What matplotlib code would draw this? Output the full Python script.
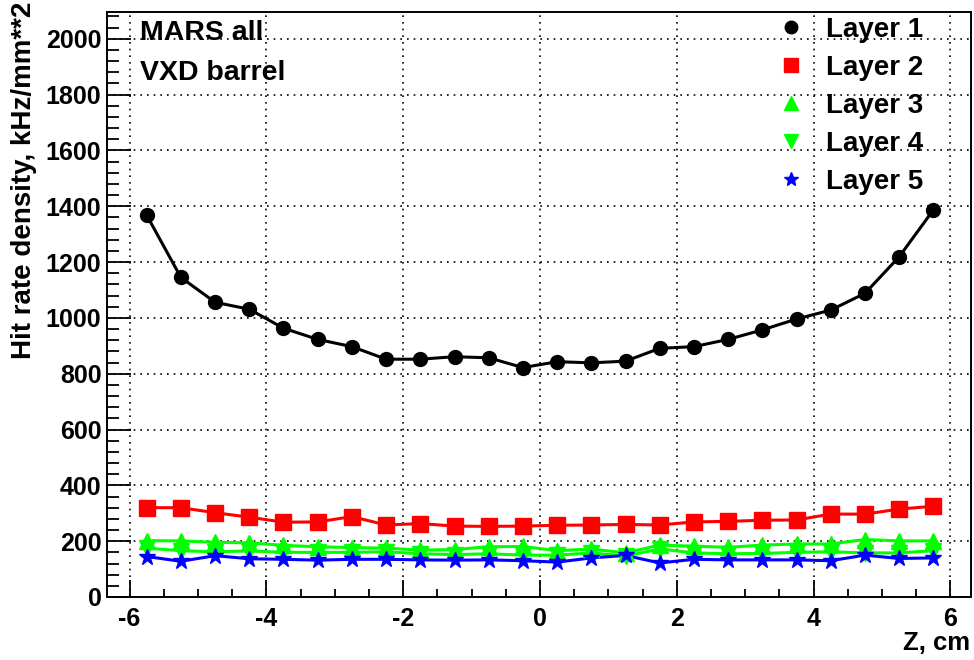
import matplotlib
matplotlib.use("Agg")
import matplotlib.pyplot as plt
from matplotlib.ticker import MultipleLocator

plt.rcParams['font.family'] = ['Liberation Sans', 'DejaVu Sans']
plt.rcParams['font.weight'] = 'bold'
plt.rcParams['axes.unicode_minus'] = False

# Hit rate density per VXD barrel layer vs. Z position
z = [-5.75, -5.25, -4.75, -4.25, -3.75, -3.25, -2.75, -2.25, -1.75, -1.25, -0.75, -0.25,
     0.25, 0.75, 1.25, 1.75, 2.25, 2.75, 3.25, 3.75, 4.25, 4.75, 5.25, 5.75]

layer1 = [1368, 1145, 1056, 1031, 963, 923, 897, 852, 852, 861, 857, 822,
          843, 839, 845, 891, 897, 923, 957, 996, 1028, 1088, 1219, 1387]
layer2 = [320, 320, 302, 286, 268, 269, 288, 258, 263, 254, 253, 254,
          257, 258, 260, 258, 269, 271, 275, 276, 297, 297, 315, 325]
layer3 = [202, 201, 196, 194, 185, 180, 177, 175, 168, 170, 180, 181,
          166, 172, 158, 186, 182, 178, 186, 190, 190, 206, 201, 201]
layer4 = [175, 166, 162, 165, 160, 160, 160, 162, 155, 152, 155, 150,
          150, 158, 147, 172, 158, 155, 156, 160, 162, 158, 158, 166]
layer5 = [145, 128, 148, 137, 135, 132, 135, 135, 133, 132, 133, 130,
          125, 140, 149, 122, 135, 133, 133, 133, 130, 150, 138, 140]

labels = ["Layer 1", "Layer 2", "Layer 3", "Layer 4", "Layer 5"]
series = [layer1, layer2, layer3, layer4, layer5]
colors = ["#000000", "#ff0000", "#00ff00", "#00ff00", "#0000ff"]
markers = ["o", "s", "^", "v", "*"]
msizes = [10, 11, 11, 11, 12]

fig = plt.figure(figsize=(9.74, 6.6), dpi=100)
ax = fig.add_axes([107 / 974, 63 / 660, (971 - 107) / 974, (597 - 12) / 660])

for ys, lab, c, m, ms in zip(series, labels, colors, markers, msizes):
    ax.plot(z, ys, color=c, lw=2.2, zorder=3)
    ax.plot(z, ys, ls="none", marker=m, ms=ms, color=c, mec=c, zorder=4, label=lab)

ax.set_xlim(-6.33, 6.3)
ax.set_ylim(0, 2096)

ax.xaxis.set_major_locator(MultipleLocator(2))
ax.xaxis.set_minor_locator(MultipleLocator(0.5))
ax.yaxis.set_major_locator(MultipleLocator(200))
ax.yaxis.set_minor_locator(MultipleLocator(40))

ax.tick_params(axis="both", which="both", direction="in", top=False, right=False,
               width=1.3, labelsize=18)
ax.tick_params(axis="x", which="major", length=12, pad=7)
ax.tick_params(axis="x", which="minor", length=6)
ax.tick_params(axis="y", which="major", length=17, pad=4)
ax.tick_params(axis="y", which="minor", length=8.5)
for lab in ax.get_xticklabels() + ax.get_yticklabels():
    lab.set_fontweight("bold")

ax.grid(True, which="major", color="black", ls=(0, (1, 3)), lw=1.2)
for sp in ax.spines.values():
    sp.set_linewidth(1.4)

fig.text(24 / 974, 1 - 2 / 660, "Hit rate density, kHz/mm**2", rotation=90,
         ha="center", va="top", fontsize=20, fontweight="bold")
fig.text(970 / 974, 1 - 643 / 660, "Z, cm", ha="right", va="center",
         fontsize=18.5, fontweight="bold")

ax.text(140 / 974, 1 - 33 / 660, "MARS all", transform=fig.transFigure,
        ha="left", va="center", fontsize=20.5, fontweight="bold")
ax.text(140 / 974, 1 - 73 / 660, "VXD barrel", transform=fig.transFigure,
        ha="left", va="center", fontsize=20.5, fontweight="bold")

leg = ax.legend(loc="upper right", bbox_to_anchor=(948 / 974, 1 + 8 / 660),
                bbox_transform=fig.transFigure, frameon=False,
                markerscale=0.9, handlelength=1.0, handletextpad=0.76,
                labelspacing=0.43, prop={"weight": "bold", "size": 20})

fig.savefig("out.png", dpi=100)
